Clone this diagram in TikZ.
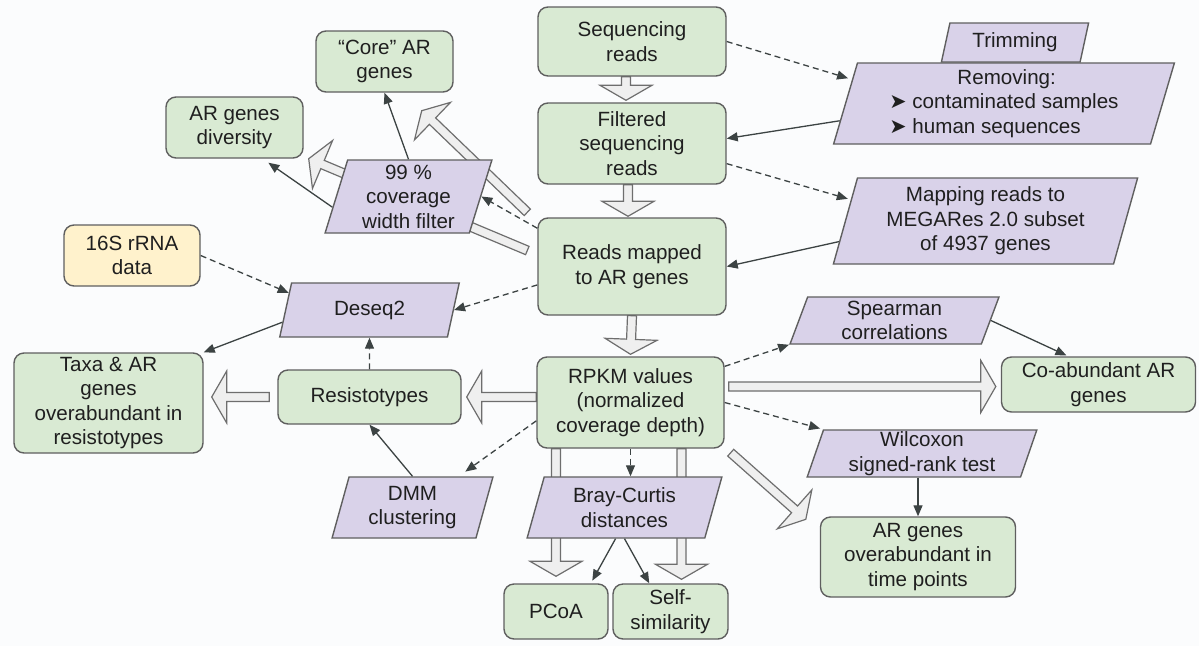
\documentclass[tikz,border=0pt]{standalone}
\usepackage{fontspec}
\setmainfont{Liberation Sans}
\newfontfamily\symfont{DejaVu Sans}
\usetikzlibrary{calc,shapes.geometric,arrows.meta}
\pgfdeclarelayer{back}
\pgfsetlayers{back,main}

\definecolor{boxgreen}{HTML}{D9EAD3}
\definecolor{boxpurple}{HTML}{D9D2E9}
\definecolor{boxyellow}{HTML}{FFF2CC}
\definecolor{edgegray}{HTML}{5F5F5F}
\definecolor{linkgray}{HTML}{3C4343}
\definecolor{fatfill}{HTML}{EFEFEF}
\definecolor{fatedge}{HTML}{6E6E6E}
\definecolor{inkgray}{HTML}{1F1F1F}
\definecolor{paper}{HTML}{FBFCFD}

% hollow block arrow from #1 to #2
\newcommand\fatarrow[2]{%
  \coordinate (fa-s) at (#1);
  \coordinate (fa-t) at (#2);
  \coordinate (fa-b) at ($(fa-t)!15pt!(fa-s)$);
  \draw[fatarr] ($(fa-s)!4.5pt!90:(fa-t)$) -- ($(fa-b)!4.5pt!90:(fa-t)$) -- ($(fa-b)!26pt!90:(fa-t)$) -- (fa-t)
    -- ($(fa-b)!26pt!-90:(fa-t)$) -- ($(fa-b)!4.5pt!-90:(fa-t)$) -- ($(fa-s)!4.5pt!-90:(fa-t)$) -- cycle;}

\begin{document}
\begin{tikzpicture}[x=1pt,y=-1pt,
  every node/.style={font=\fontsize{20.6}{24.5}\selectfont, text=inkgray, align=center},
  wh/.style 2 args={minimum width=#1pt, minimum height=#2pt},
  gbox/.style={draw=edgegray, fill=boxgreen, rounded corners=10pt, line width=1.4pt, inner sep=2pt},
  ybox/.style={gbox, fill=boxyellow},
  pbox/.style={draw=edgegray, fill=boxpurple, trapezium, trapezium left angle=75, trapezium right angle=105,
    trapezium stretches=true, line width=1.4pt, inner sep=1pt},
  link/.style={draw=linkgray, line width=1.3pt, -{Triangle[length=11pt,width=9pt]}},
  dlink/.style={link, dash pattern=on 6pt off 4pt},
  fatarr/.style={draw=fatedge, fill=fatfill, line width=1.2pt, line join=miter}]
\useasboundingbox (0,0) rectangle (1199,646);
\begin{pgfonlayer}{back}
\fill[paper] (0,0) rectangle (1199,646);
\end{pgfonlayer}

% boxes
\node[gbox, wh={188}{69}] (seqreads) at (632,41.5) {Sequencing\\reads};
\node[gbox, wh={188}{81}] (filtered) at (632,143.5) {Filtered\\sequencing\\reads};
\node[gbox, wh={188}{97}] (mapped) at (632,266.5) {Reads mapped\\to AR genes};
\node[gbox, wh={187}{91}] (rpkm) at (630.5,402.5) {RPKM values\\(normalized\\coverage depth)};
\node[gbox, wh={183}{54}] (resisto) at (369.5,397) {Resistotypes};
\node[gbox, wh={189}{100}] (taxa) at (108.5,403) {Taxa \& AR\\genes\\overabundant in\\resistotypes};
\node[gbox, wh={137}{61}] (core) at (384.5,61.5) {“Core” AR\\genes};
\node[gbox, wh={137}{61}] (diversity) at (234.5,127.5) {AR genes\\diversity};
\node[gbox, wh={194}{55}] (coab) at (1098.5,384.5) {Co-abundant AR\\genes};
\node[gbox, wh={195}{80}] (timepts) at (918,557) {AR genes\\overabundant in\\time points};
\node[gbox, wh={104}{55}] (pcoa) at (556,611.5) {PCoA};
\node[gbox, wh={115}{55}] (selfsim) at (670.5,611.5) {Self-\\similarity};
\node[ybox, wh={136}{61}] (rrna) at (132,255.5) {16S rRNA\\data};

% steps
\node[pbox, wh={148}{39}] (trim) at (1015,42.5) {Trimming};
\node[pbox, wh={342}{81}, align=left] (removing) at (1004,103.5)
  {\hspace*{68pt}Removing:\\{\symfont ➤} contaminated samples\\{\symfont ➤} human sequences};
\node[pbox, wh={305}{86}] (mapping) at (985.5,221) {Mapping reads to\\MEGARes 2.0 subset\\of 4937 genes};
\node[pbox, wh={167}{73}] (covfilter) at (408.5,196.5) {99 \%\\coverage\\width filter};
\node[pbox, wh={181}{54}] (deseq) at (369.5,310) {Deseq2};
\node[pbox, wh={209}{47}] (spearman) at (894.5,320.5) {Spearman\\correlations};
\node[pbox, wh={230}{47}] (wilcoxon) at (922,453.5) {Wilcoxon\\signed-rank test};
\node[pbox, wh={195}{61}] (braycurtis) at (624.5,507.5) {Bray-Curtis\\distances};
\node[pbox, wh={161}{61}] (dmm) at (412.5,507.5) {DMM\\clustering};

% main flow
\begin{pgfonlayer}{back}
\fatarrow{$(seqreads.south)+(-6,0)$}{$(filtered.north)+(-6,-2)$}
\fatarrow{$(filtered.south)+(-4,0)$}{$(mapped.north)+(-4,-1)$}
\fatarrow{mapped.south}{$(rpkm.north)+(0,-2)$}
\fatarrow{rpkm.west |- resisto.east}{$(resisto.east)+(5,0)$}
\fatarrow{$(resisto.west)+(-8,0)$}{$(taxa.east |- resisto.west)+(8,0)$}
\fatarrow{$(rpkm.east |- coab.west)+(4,2)$}{$(coab.west)+(-5,2)$}
\fatarrow{$(rpkm.south east)+(6,4)$}{$(timepts.north west)+(-14,3)$}
\fatarrow{pcoa.north |- rpkm.south}{$(pcoa.north)+(0,-7)$}
\fatarrow{$(selfsim.north |- rpkm.south)+(11,0)$}{$(selfsim.north)+(11,-4)$}
\fatarrow{$(mapped.north west)+(-10,-5)$}{$(core.south east)+(-32,18)$}
\fatarrow{$(mapped.west)+(-10,-16)$}{$(diversity.south east)+(5,0)$}
\end{pgfonlayer}

% links
\draw[dlink, shorten >=4pt] (seqreads.east) -- (removing.171);
\draw[link] (removing.186) -- (filtered.3);
\draw[dlink, shorten >=3pt] (filtered.-12) -- (mapping.171);
\draw[link] (mapping.188) -- (mapped.east);
\draw[dlink] (mapped.158) -- (covfilter.east);
\draw[link] (covfilter.north) -- (core.south);
\draw[link, shorten >=7pt] (covfilter.188) -- (diversity.-48);
\draw[dlink] (mapped.191) -- (deseq.east);
\draw[dlink] (rrna.east) -- (deseq.168);
\draw[link] (deseq.188) -- (taxa.north east);
\draw[dlink] (resisto.north) -- (deseq.south);
\draw[link] (dmm.north) -- (resisto.south);
\draw[dlink, shorten >=8pt] (rpkm.191) -- (dmm.34);
\draw[dlink] (rpkm.south) -- (rpkm.south |- braycurtis.north);
\draw[link, shorten >=3pt] (braycurtis.-106) -- (pcoa.39);
\draw[link] (braycurtis.south) -- (selfsim.127);
\draw[dlink] (rpkm.21) -- (spearman.bottom left corner);
\draw[link, shorten >=2pt] (spearman.east) -- (coab.137);
\draw[dlink, shorten >=3pt] (rpkm.east) -- (wilcoxon.top left corner);
\draw[link] (timepts.north |- wilcoxon.south) -- (timepts.north);
\end{tikzpicture}
\end{document}
